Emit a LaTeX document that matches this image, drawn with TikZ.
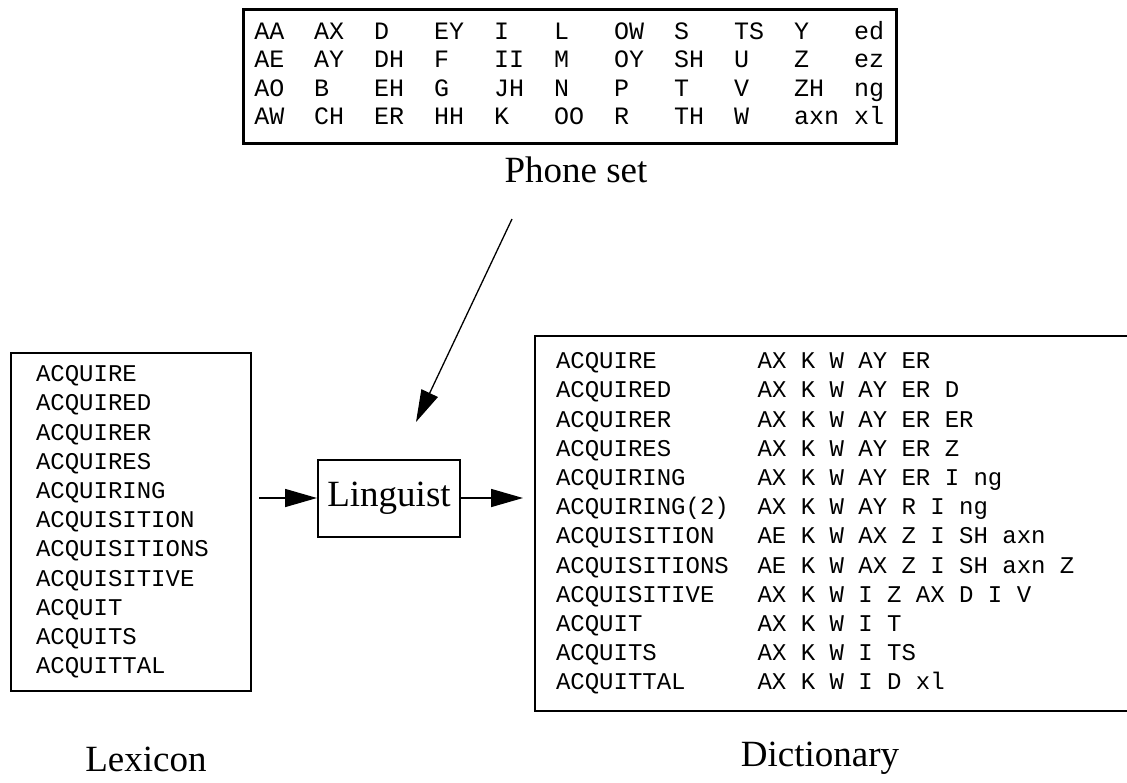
\documentclass[tikz,border=0pt]{standalone}
\usepackage{fontspec}
\setmainfont{Liberation Serif}
\setmonofont{Liberation Mono}
\usetikzlibrary{positioning,arrows.meta}
\tikzset{wordlist/.style={draw,line width=2pt,anchor=north west,align=left,inner ysep=0pt,font=\ttfamily\fontsize{24}{29.2}\selectfont},phonelist/.style={wordlist,line width=2.5pt,font=\ttfamily\fontsize{25}{28.5}\selectfont},tag/.style={anchor=base,inner sep=0pt,font=\fontsize{37}{40}\selectfont},flow/.style={line width=1.6pt,-{Triangle[length=32pt,width=18pt]}}}
% one phone column is four characters wide, the spelling column fourteen
\newcommand\ph[1]{\makebox[60pt][l]{#1}}
\newcommand\pron[2]{\makebox[201.6pt][l]{#1}{\spaceskip=14.4pt\relax#2}}

\begin{document}
\begin{tikzpicture}[x=1pt,y=-1pt]
\useasboundingbox (0,0) rectangle (1127,782);
\clip (0,0) rectangle (1127,782);
\node[phonelist,minimum width=653pt,minimum height=134pt,inner xsep=11pt,text width=631pt] (phones) at (242,8) {\ph{AA}\ph{AX}\ph{D}\ph{EY}\ph{I}\ph{L}\ph{OW}\ph{S}\ph{TS}\ph{Y}ed\\
\ph{AE}\ph{AY}\ph{DH}\ph{F}\ph{II}\ph{M}\ph{OY}\ph{SH}\ph{U}\ph{Z}ez\\
\ph{AO}\ph{B}\ph{EH}\ph{G}\ph{JH}\ph{N}\ph{P}\ph{T}\ph{V}\ph{ZH}ng\\
\ph{AW}\ph{CH}\ph{ER}\ph{HH}\ph{K}\ph{OO}\ph{R}\ph{TH}\ph{W}\ph{axn}xl\vspace{6pt}};
\node[tag] (phoneset) at (576,182) {Phone set};
\node[wordlist,minimum width=240pt,minimum height=338pt,inner xsep=25pt,text width=190pt] (lexicon) at (10,352) {ACQUIRE\\ACQUIRED\\ACQUIRER\\ACQUIRES\\ACQUIRING\\ACQUISITION\\ACQUISITIONS\\ACQUISITIVE\\ACQUIT\\ACQUITS\\ACQUITTAL};
\node[draw,line width=2pt,minimum width=142pt,minimum height=77pt,inner sep=0pt,font=\fontsize{37}{40}\selectfont] (linguist) at (389,498) {Linguist};
\node[wordlist,minimum width=640pt,minimum height=375pt,inner xsep=21pt,text width=598pt] (dict) at (534,335) {\pron{ACQUIRE}{AX K W AY ER}\\
\pron{ACQUIRED}{AX K W AY ER D}\\
\pron{ACQUIRER}{AX K W AY ER ER}\\
\pron{ACQUIRES}{AX K W AY ER Z}\\
\pron{ACQUIRING}{AX K W AY ER I ng}\\
\pron{ACQUIRING(2)}{AX K W AY R I ng}\\
\pron{ACQUISITION}{AE K W AX Z I SH axn}\\
\pron{ACQUISITIONS}{AE K W AX Z I SH axn Z}\\
\pron{ACQUISITIVE}{AX K W I Z AX D I V}\\
\pron{ACQUIT}{AX K W I T}\\
\pron{ACQUITS}{AX K W I TS}\\
\pron{ACQUITTAL}{AX K W I D xl}};
\node[tag] (lexlabel) at (146,771) {Lexicon};
\node[tag] (dictlabel) at (820,766) {Dictionary};
% the phone set feeds the linguist from above
\coordinate (feed) at (512,219);
\coordinate (drop) at (416,422);
\draw[flow,line width=1.3pt] (feed) -- (drop);
\draw[flow,shorten <=7pt] (lexicon.east |- linguist.west) -- (linguist.west);
\draw[flow,shorten >=11pt] (linguist.east) -- (dict.west |- linguist.east);
\end{tikzpicture}
\end{document}
